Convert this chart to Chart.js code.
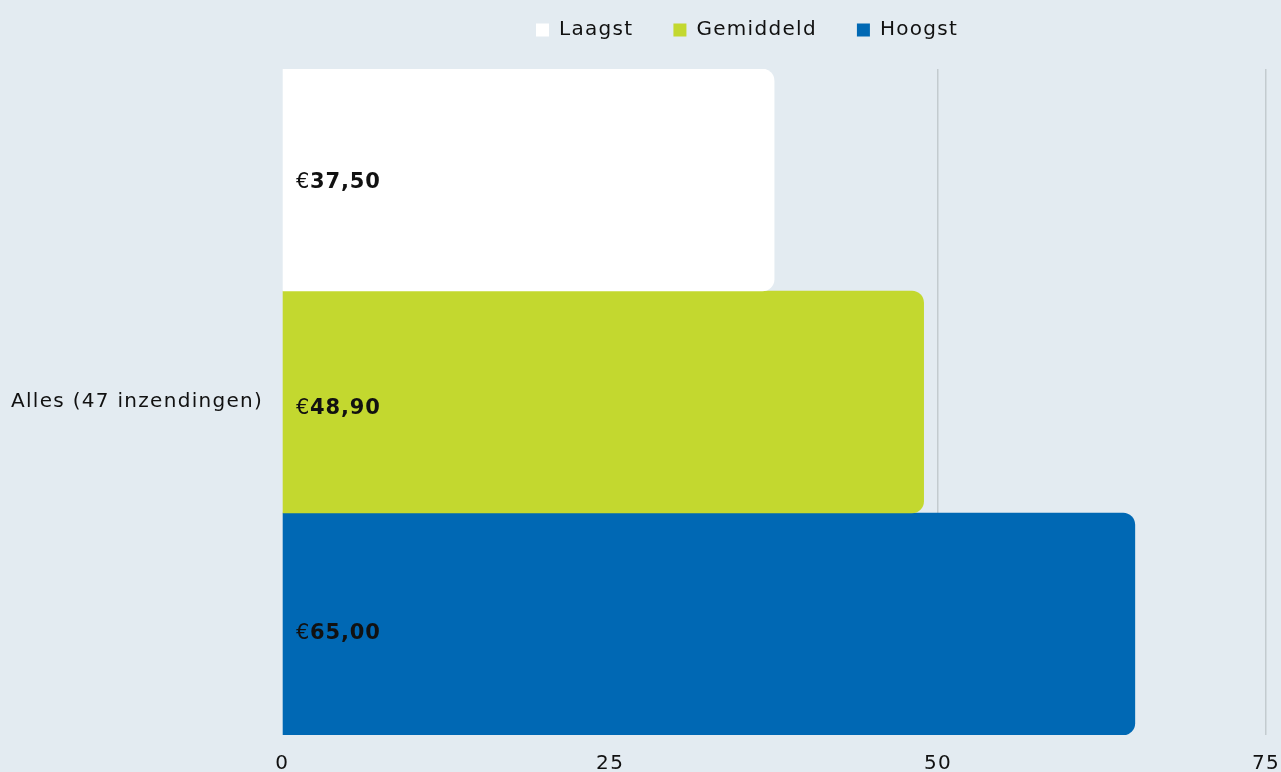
<!DOCTYPE html>
<html>
<head>
<meta charset="utf-8">
<script src="https://cdn.jsdelivr.net/npm/chart.js@4"></script>
<style>
  html, body { margin: 0; padding: 0; background: #e3ebf1; }
  canvas { display: block; }
</style>
</head>
<body>
<canvas id="priceChart" width="1281" height="772"></canvas>
<script>
const categories = ['Alles (47 inzendingen)'];
const seriesNames = ['Laagst', 'Gemiddeld', 'Hoogst'];
const laagst = [37.5];
const gemiddeld = [48.9];
const hoogst = [65];
const xTicks = [0, 25, 50, 75];

const colors = ['#ffffff', '#c3d82f', '#0068b4'];
const fontFamily = "'DejaVu Sans', sans-serif";
const spacing = '1.3px';

// wider letter spacing for all canvas text
const letterSpacing = {
  id: 'letterSpacing',
  beforeUpdate(chart) { chart.ctx.letterSpacing = spacing; },
  beforeDraw(chart) { chart.ctx.letterSpacing = spacing; }
};

// draws "€" + bold amount inside each bar
const valueLabels = {
  id: 'valueLabels',
  afterDatasetsDraw(chart) {
    const ctx = chart.ctx;
    ctx.save();
    ctx.letterSpacing = '0.8px';
    ctx.textBaseline = 'middle';
    ctx.fillStyle = '#111';
    chart.data.datasets.forEach((ds, i) => {
      chart.getDatasetMeta(i).data.forEach((bar, j) => {
        const amount = ds.data[j].toFixed(2).replace('.', ',');
        const x = bar.base + 13;
        const y = bar.y + 3 + 3.5 * i;
        ctx.font = '21px ' + fontFamily;
        ctx.fillText('€', x, y);
        const w = ctx.measureText('€').width;
        ctx.font = 'bold 21px ' + fontFamily;
        ctx.fillText(amount, x + w, y);
      });
    });
    ctx.restore();
  }
};

// extra room under the legend, and nudge it a bit to the left
const legendGap = {
  id: 'legendGap',
  beforeInit(chart) {
    const fit = chart.legend.fit;
    chart.legend.fit = function () {
      fit.bind(chart.legend)();
      this.height += 19;
    };
  },
  afterLayout(chart) {
    chart.legend.left -= 27;
    chart.legend.right -= 27;
  }
};

const ctx = document.getElementById('priceChart').getContext('2d');
new Chart(ctx, {
  type: 'bar',
  data: {
    labels: categories,
    datasets: [
      { label: seriesNames[0], data: laagst, backgroundColor: colors[0] },
      { label: seriesNames[1], data: gemiddeld, backgroundColor: colors[1] },
      { label: seriesNames[2], data: hoogst, backgroundColor: colors[2] }
    ]
  },
  options: {
    indexAxis: 'y',
    responsive: false,
    animation: false,
    layout: { padding: { left: 0, right: 15, top: -20, bottom: -21 } },
    datasets: {
      bar: {
        categoryPercentage: 1,
        barPercentage: 1,
        borderRadius: 12,
        borderSkipped: 'start'
      }
    },
    plugins: {
      legend: {
        position: 'top',
        fullSize: false,
        labels: {
          boxWidth: 13,
          boxHeight: 13,
          padding: 40,
          color: '#111',
          font: { family: fontFamily, size: 20 }
        }
      },
      tooltip: { enabled: false }
    },
    scales: {
      x: {
        min: 0,
        max: 75,
        afterBuildTicks(axis) {
          axis.ticks = xTicks.map(v => ({ value: v }));
        },
        afterFit(axis) {
          axis.paddingRight = 0;
          axis.paddingLeft = 0;
        },
        grid: {
          color: c => c.tick && c.tick.value === 0 ? 'rgba(0,0,0,0)' : '#c3cbcf',
          lineWidth: 1.5,
          drawTicks: false
        },
        border: { display: false },
        ticks: {
          color: '#111',
          padding: 17,
          font: { family: fontFamily, size: 20 }
        }
      },
      y: {
        grid: { display: false },
        border: { display: false },
        ticks: {
          color: '#111',
          padding: 11,
          font: { family: fontFamily, size: 20 }
        }
      }
    }
  },
  plugins: [letterSpacing, valueLabels, legendGap]
});
</script>
</body>
</html>
